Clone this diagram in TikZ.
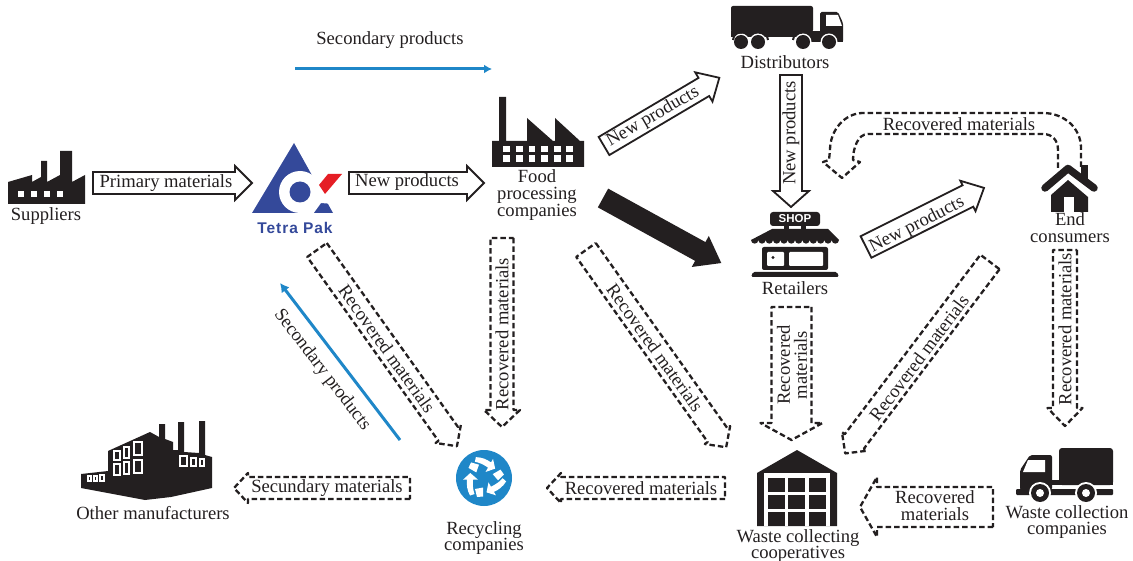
\documentclass[tikz,border=0pt]{standalone}
\usepackage{fontspec}
\usetikzlibrary{arrows.meta}
\setmainfont{Liberation Serif}
\setsansfont{Liberation Sans}
\definecolor{ink}{HTML}{231F20}
\definecolor{skyb}{HTML}{1F87C8}
\definecolor{tetra}{HTML}{34499A}
\definecolor{tred}{HTML}{E51E25}
\tikzset{
  lbl/.style={inner sep=0pt,font=\fontsize{18.6}{16.8}\selectfont,text=ink,align=center},
  solidarr/.style={draw=ink,line width=1.8pt,fill=white,line join=miter,miter limit=6},
  dasharr/.style={draw=ink,line width=2.3pt,dash pattern=on 5.5pt off 3pt,line join=round},
  heavyarr/.style={fill=ink},
  bluearr/.style={draw=skyb,line width=3pt},
  blk/.style={fill=ink,draw=none},
  wht/.style={fill=white,draw=none},
}
% style, name, x, y, angle, length, half width, head length, head half width
\newcommand\blockarr[9]{%
  \begin{scope}[shift={(#3,#4)},rotate=#5]
    \coordinate (#2) at (0,0);
    \path[#1] (0,-#7) -- ({#6-#8},-#7) -- ({#6-#8},-#9) -- (#6,0) -- ({#6-#8},#9) -- ({#6-#8},#7) -- (0,#7) -- cycle;
  \end{scope}}
\begin{document}
\begin{tikzpicture}[x=1pt,y=-1pt]
\useasboundingbox (0,0) rectangle (1133,561);

% ---------- Suppliers factory
\fill[blk] (8,182) -- (32,175) -- (32,182) -- (41,177) -- (41,161) -- (47,161) -- (47,182) -- (60,175) -- (60,151) -- (72,151) -- (72,182) -- (85,175) -- (85,204) -- (8,204) -- cycle;
\foreach \xx in {18,31,44,57} \fill[wht] (\xx,191) rectangle ++(5.5,6.5);

% ---------- Tetra Pak logo
\fill[tetra] (294,143) -- (333,213) -- (252,213) -- cycle;
\fill[wht] (314,174) -- (345,174) -- (345,205) -- (321,203) -- (313,214) -- (300,214) -- (300,190) -- cycle;
\fill[wht] (300,192) circle (21);
\fill[tetra] (300,192) circle (10.5);
\fill[tred] (328,174) -- (342,174) -- (325,194) -- (319,185) -- cycle;
\node[inner sep=0pt,text=tetra,font=\fontsize{15.5}{16}\selectfont\sffamily\bfseries] (tetratxt) at (295,228) {\addfontfeature{LetterSpace=6}Tetra Pak};

% ---------- Food factory
\fill[blk] (492,141) -- (499,141) -- (499,97) -- (506,97) -- (506,141) -- (527,141) -- (527,118) -- (553,141) -- (555,141) -- (555,118) -- (580,141) -- (584,141) -- (584,167) -- (492,167) -- cycle;
\foreach \xx in {503.3,515.9,528.5,541.1,553.7,566.3} {
  \fill[wht] (\xx,146) rectangle ++(6.8,6.5);
  \fill[wht] (\xx,155.5) rectangle ++(6.8,6.5);
}

% ---------- Distributor truck
\fill[blk,rounded corners=2pt] (731,6) rectangle (813,32);
\fill[blk,rounded corners=1.5pt] (820,12) -- (838,12) -- (843,23) -- (843,42) -- (820,42) -- cycle;
\fill[blk] (731,31) rectangle (822,37);
\fill[blk] (800,32) rectangle (843,42);
\fill[wht] (826,15) -- (838,15) -- (842,26) -- (826,26) -- cycle;
\foreach \xx in {741,758,803,829} {
  \fill[wht] (\xx,42) circle (8.5);
}
\foreach \xx in {741,758,803,829} {
  \fill[blk] (\xx,42) circle (7);
}
\draw[ink,line width=2pt] (733,40) arc (180:280:7.5);
\draw[ink,line width=2pt] (768,40) arc (0:-100:7.5);
\draw[ink,line width=2pt] (793,40) arc (180:280:7.5);

% ---------- Shop
\fill[blk,rounded corners=3pt] (770,212) rectangle (820,226);
\node[inner sep=0pt,text=white,font=\fontsize{11.5}{12}\selectfont\sffamily\bfseries] (shoptxt) at (795,219) {SHOP};
\fill[blk] (784,226) rectangle (789,230);
\fill[blk] (801,226) rectangle (806,230);
\fill[blk] (772,229) -- (828,229) -- (839,240)
  arc[start angle=0,end angle=180,radius=3.667] arc[start angle=0,end angle=180,radius=3.667]
  arc[start angle=0,end angle=180,radius=3.667] arc[start angle=0,end angle=180,radius=3.667]
  arc[start angle=0,end angle=180,radius=3.667] arc[start angle=0,end angle=180,radius=3.667]
  arc[start angle=0,end angle=180,radius=3.667] arc[start angle=0,end angle=180,radius=3.667]
  arc[start angle=0,end angle=180,radius=3.667] arc[start angle=0,end angle=180,radius=3.667]
  arc[start angle=0,end angle=180,radius=3.667] arc[start angle=0,end angle=180,radius=3.667]
  -- cycle;
\fill[blk,rounded corners=2pt] (762,247) rectangle (828,270);
\fill[wht,rounded corners=1pt] (767,252) rectangle (784,266);
\fill[wht,rounded corners=1pt] (789,252) rectangle (823,266);
\fill[blk] (773,257.5) circle (1.7);
\fill[blk,rounded corners=1.5pt] (751,277) -- (753,272) -- (837,272) -- (839,277) -- cycle;

% ---------- House
\fill[blk] (1081,165) rectangle (1088,180);
\fill[blk] (1068,180) -- (1088,197) -- (1088,212) -- (1051,212) -- (1051,195) -- cycle;
\draw[ink,line width=7.5pt,line cap=round,line join=round] (1045,188) -- (1068,168.5) -- (1094,188);
\fill[wht] (1064,197) rectangle (1074,212);
\draw[white,line width=1pt] (1047,193.5) -- (1068,175) -- (1090,193.5);

% ---------- Waste collecting cooperative
\fill[blk] (797,450) -- (837,473) -- (837,526) -- (757,526) -- (757,473) -- cycle;
\fill[wht] (764,473) rectangle (830,526);
\foreach \xx/\yy in {768/478,788/478,809/478,768/495,788/495,809/495,768/512,788/512,809/512}
  \fill[blk] (\xx,\yy) rectangle ++(17,14);

% ---------- Waste collection truck
\fill[blk,rounded corners=3pt] (1059,448) rectangle (1113,485);
\fill[blk] (1040,480) rectangle (1113,485);
\fill[blk,rounded corners=2pt] (1030,455) -- (1052,455) -- (1052,490) -- (1020,490) -- (1020,470) -- cycle;
\fill[wht] (1028,460) -- (1045,460) -- (1045,472) -- (1023,472) -- cycle;
\fill[blk,rounded corners=1pt] (1016,489) rectangle (1113,495);
\foreach \xx in {1040,1086} {
  \fill[wht] (\xx,493) circle (11);
  \fill[blk] (\xx,493) circle (9);
  \fill[wht] (\xx,493) circle (4);
}

% ---------- Other manufacturers
\fill[blk] (81,474) -- (108,471) -- (108,451) -- (150,432) -- (159,437) -- (159,424) -- (165,424) -- (165,439) -- (173,442) -- (173,450) -- (178,450) -- (178,422) -- (184,422) -- (184,452) -- (199,453) -- (199,421) -- (205,421) -- (205,455) -- (212,457) -- (212,488) -- (171,497) -- (145,500) -- (81,488) -- cycle;
\foreach \aa/\bb/\cc/\dd in {114/451/120/460, 124/447/129/458, 134/442/142/455, 114/464/120/475, 124/462/129/474, 134/460/142/473, 180/456/187/466, 191/458/196/466, 200/459/204/466, 88/476/91/481, 94/476/97/481, 100/475/104/481}
  \draw[white,line width=1.1pt] (\aa,\bb) rectangle (\cc,\dd);

% ---------- Recycling icon
\fill[skyb] (484,478) circle (28);
\foreach \rr in {0,-120,-240} {
  \begin{scope}[shift={(484,478)},rotate=\rr]
    \fill[wht] (-21,1.7) -- (-13.7,-5) -- (-6,1.7) -- (-11,1.7) .. controls (-11.5,7) and (-11,12) .. (-9.5,16) -- (-14,17.5) .. controls (-17,12) and (-17.5,7) .. (-17,1.7) -- cycle;
    \fill[wht] (-9,11) -- (-1,9.5) -- (-1,18.5) -- (-7,19) -- cycle;
  \end{scope}
}

% ---------- Block arrows
\blockarr{solidarr}{a1}{93}{183}{0}{159}{11}{17}{17}
\blockarr{solidarr}{a2}{349}{183}{0}{135}{11}{17}{17}
\blockarr{solidarr}{a3}{604}{146}{30.6}{134}{10.5}{18}{17}
\blockarr{solidarr}{a4}{791}{75}{-90}{132}{11}{16}{18}
\blockarr{solidarr}{a5}{866}{247}{26.6}{132}{12}{18}{17}
\blockarr{heavyarr}{a6}{603}{198}{-28.8}{135}{10.7}{24}{17.7}
\blockarr{dasharr}{d1}{317}{250}{-54.5}{241}{12}{15}{15.5}
\blockarr{dasharr}{d2}{586}{250}{-54.6}{242}{12}{15}{15.5}
\blockarr{dasharr}{d3}{502}{238}{-90}{189}{11.5}{17}{18}
\blockarr{dasharr}{d4}{791.5}{307}{-90}{133}{20}{17}{31}
\blockarr{dasharr}{d5}{1065}{250}{-90}{176}{12}{18}{17.5}
\blockarr{dasharr}{d6}{990}{262}{-127.1}{240}{12}{15}{15.5}
\blockarr{dasharr}{d7}{410}{488}{180}{176}{11}{14}{15}
\blockarr{dasharr}{d8}{725}{488}{180}{178}{11}{14}{15}
\blockarr{dasharr}{d9}{993}{507}{180}{133}{20}{17}{30}

% ---------- Curved dashed arrow
\draw[dasharr] (1081,167) -- (1081,148) .. controls (1081,128) and (1064,113) .. (1043,113) -- (863,113) .. controls (845,113) and (830,130) .. (830,150) -- (829,160) -- (823,162) -- (842,178) -- (860,162) -- (853,160) .. controls (853,148) and (858,134) .. (868,134) -- (1043,134) .. controls (1052,134) and (1058,140) .. (1058,150) -- (1058,170);

% ---------- Blue connectors
\coordinate (bl1s) at (295,69); \coordinate (bl1e) at (492,69);
\coordinate (bl2s) at (400,440); \coordinate (bl2e) at (280,283);
\draw[bluearr,-{Latex[length=8pt,width=9pt]}] (bl1s) -- (bl1e);
\draw[bluearr,-{Latex[length=9pt,width=10pt]}] (bl2s) -- (bl2e);

% ---------- Labels
\node[lbl] (suppliers) at (46,216.5) {Suppliers};
\node[lbl] (primary) at (166,183) {Primary materials};
\node[lbl] (np1) at (407,182) {New products};
\node[lbl] (secp1) at (390,40) {Secondary products};
\node[lbl] (distr) at (785,62) {Distributors};
\node[lbl] (food) at (537,195) {Food\\processing\\companies};
\node[lbl] (retail) at (795,288) {Retailers};
\node[lbl] (endc) at (1070,228) {End\\consumers};
\node[lbl] (wcoll) at (1067,522) {Waste collection\\companies};
\node[lbl] (wcoop) at (798,546) {Waste collecting\\cooperatives};
\node[lbl] (recy) at (484,538) {Recycling\\companies};
\node[lbl] (other) at (153,513) {Other manufacturers};
\node[lbl,rotate=30] (np2) at (653,117) {New products};
\node[lbl,rotate=90] (np3) at (791,133) {New products};
\node[lbl,rotate=27] (np4) at (917,225) {New products};
\node[lbl,rotate=-54.5] (r1) at (387,349) {Recovered materials};
\node[lbl,rotate=-54.5] (r2) at (655,348) {Recovered materials};
\node[lbl,rotate=90] (r3) at (502,334) {Recovered materials};
\node[lbl,rotate=90] (r4) at (792,365) {Recovered\\materials};
\node[lbl,rotate=90] (r5) at (1065,329) {Recovered materials};
\node[lbl,rotate=53] (r6) at (919,358) {Recovered materials};
\node[lbl] (r7) at (959,124) {Recovered materials};
\node[lbl] (r8) at (641,488) {Recovered materials};
\node[lbl] (r9) at (935,506) {Recovered\\materials};
\node[lbl] (sm) at (327,488) {Secundary materials};
\node[lbl,rotate=-52.6] (sp2) at (322,370) {Secondary products};
\end{tikzpicture}
\end{document}
